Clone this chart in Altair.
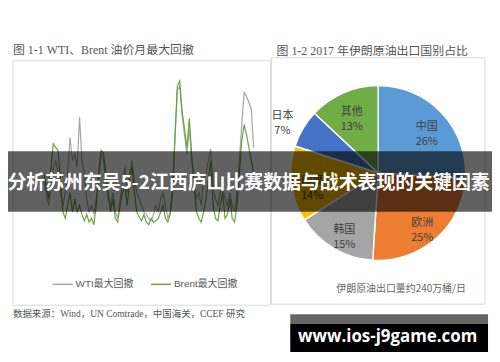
import altair as alt
import pandas as pd

W, H = 487, 346

FONT_SANS = "Noto Sans CJK SC"
FONT_SERIF = "Liberation Serif, Noto Sans CJK SC"
FONT_AXIS = "Liberation Sans, Noto Sans CJK SC"

left_title = "图 1-1 WTI、Brent 油价月最大回撤"
right_title = "图 1-2 2017 年伊朗原油出口国别占比"
source_note = "数据来源：Wind，UN Comtrade，中国海关，CCEF 研究"
pie_note = "伊朗原油出口量约240万桶/日"
banner_text = "分析苏州东吴5-2江西庐山比赛数据与战术表现的关键因素"
watermark = "www.ios-j9game.com"

# ---- line chart data (monthly max drawdown, %), one reading every 4 days
series_names = ["WTI最大回撤", "Brent最大回撤"]
series_colors = ["#a6a6a6", "#6aa33f"]
start_date = "2017-06-30"
step_days = 4
wti = [3.5, 2.5, 1.5, 3.0, 4.5, 5.0, 4.0, 2.5, 1.5, 2.5,
       4.0, 6.8, 5.0, 5.5, 4.5, 8.4, 5.0, 4.0, 2.0, 1.0,
       1.5, 0.8, 2.0, 3.5, 5.5, 5.0, 3.5, 2.0, 1.5, 2.5,
       1.0, 0.5, 2.0, 3.0, 4.5, 2.5, 4.0, 5.0, 3.5, 2.5,
       2.0, 1.5, 1.0, 0.8, 0.5, 0.3, 0.8, 1.5, 1.0, 2.0,
       2.5, 1.5, 0.5, 1.0, 3.0, 6.5, 10.5, 10.8, 8.5, 7.0,
       5.5, 7.5, 5.0, 3.5, 2.0, 2.5, 1.5, 3.5, 4.0, 5.0,
       5.9, 3.0, 2.0, 1.5, 2.5, 3.0, 2.0, 1.5, 2.5, 1.5,
       1.0, 2.5, 5.0, 7.8, 10.3, 10.0, 9.5, 9.0, 6.0]
brent = [4.0, 3.0, 2.0, 4.5, 6.3, 6.0, 5.8, 3.5, 1.0, 0.5,
         1.5, 2.5, 1.0, 2.0, 1.0, 1.5, 0.8, 0.3, 0.8, 0.2,
         0.5, 0.0, 1.5, 4.0, 5.8, 5.6, 4.0, 2.5, 1.0, 2.0,
         0.5, 0.2, 1.5, 2.5, 3.0, 1.5, 3.5, 4.5, 2.5, 1.0,
         0.6, 0.3, 0.8, 0.2, 0.0, 0.5, 0.2, 0.3, 0.5, 1.0,
         1.5, 0.5, 0.2, 0.8, 2.5, 7.0, 10.8, 11.2, 8.8, 7.5,
         6.0, 8.3, 5.5, 3.0, 1.0, 0.5, 0.2, 1.0, 2.0, 3.5,
         5.0, 1.5, 0.5, 0.3, 1.5, 2.5, 0.5, 0.8, 2.0, 0.5,
         0.2, 1.5, 4.0, 6.5, 7.8, 7.0, 6.0, 5.0, 4.0]
tick_dates = ["2017-06-30", "2017-07-31", "2017-08-31", "2017-09-30",
              "2017-10-31", "2017-11-30", "2017-12-31", "2018-01-31",
              "2018-02-28", "2018-03-31", "2018-04-30", "2018-05-31"]
y_ticks = [0, 2, 4, 6, 8, 10, 12]

# ---- pie data
countries = ["中国", "欧洲", "韩国", "印度", "日本", "其他"]
shares = [26, 25, 15, 14, 7, 13]
pie_colors = ["#5b9bd5", "#ed7d31", "#a5a5a5", "#ffc000", "#4472c4", "#70ad47"]

# ---- tables
dates = pd.date_range(start_date, periods=len(wti), freq=f"{step_days}D").strftime("%Y-%m-%d")
line_df = pd.concat([
    pd.DataFrame({"date": dates, "v": wti, "series": series_names[0]}),
    pd.DataFrame({"date": dates, "v": brent, "series": series_names[1]}),
])
pie_df = pd.DataFrame({"country": countries, "share": shares, "idx": list(range(len(countries)))})


def ms(d):
    return int(pd.Timestamp(d, tz="UTC").timestamp() * 1000)


tick_ms = [ms(d) for d in tick_dates]
one = pd.DataFrame({"k": [0]})


def rect(x, x2, y, y2, fill, stroke=None, opacity=1.0):
    kw = dict(fill=fill, opacity=opacity)
    if stroke:
        kw.update(stroke=stroke, strokeWidth=1)
    return alt.Chart(one).mark_rect(**kw).encode(
        x=alt.value(x), x2=alt.value(x2), y=alt.value(y), y2=alt.value(y2))


def text(t, x, y, size, color, font, weight="normal", align="left"):
    return alt.Chart(one).mark_text(
        text=t, fontSize=size, color=color, font=font, fontWeight=weight,
        align=align, baseline="middle").encode(x=alt.value(x), y=alt.value(y))


axis_style = dict(domainColor="#a6a6a6", tickColor="#a6a6a6", tickSize=3,
                  labelColor="#595959", labelFont=FONT_AXIS, labelFontSize=8,
                  grid=False, title=None, labelFlush=False, labelOverlap=False)

lines = alt.Chart(line_df).mark_line(strokeWidth=1.2).encode(
    x=alt.X("date:T",
            scale=alt.Scale(type="utc", domain=[tick_ms[0], tick_ms[-1]], range=[36, 237], nice=False),
            axis=alt.Axis(values=tick_ms, format="%Y-%m-%d", formatType="utc", labelAngle=270,
                          offset=-129, labelPadding=3, **axis_style)),
    y=alt.Y("v:Q",
            scale=alt.Scale(domain=[0, 12], range=[217, 62], nice=False, zero=True),
            axis=alt.Axis(values=y_ticks, labelExpr="datum.value + '%'", offset=-35,
                          labelPadding=3, **axis_style)),
    color=alt.Color("series:N", sort=series_names,
                    scale=alt.Scale(domain=series_names, range=series_colors),
                    legend=alt.Legend(orient="none", legendX=44, legendY=266, direction="horizontal",
                                      title=None, symbolType="stroke", symbolSize=400,
                                      symbolStrokeWidth=1.5, labelFontSize=10, labelColor="#595959",
                                      labelFont=FONT_AXIS, columnPadding=14, labelOffset=2, padding=0)),
)

CX, CY = 372.5, 165
arcs = alt.Chart(pie_df).mark_arc(outerRadius=88, stroke="white", strokeWidth=1.5).encode(
    theta=alt.Theta("share:Q", stack=True),
    order=alt.Order("idx:Q", sort="ascending"),
    color=alt.Color("country:N", scale=alt.Scale(domain=countries, range=pie_colors), legend=None),
    x=alt.value(CX), y=alt.value(CY),
)
pie_labels = alt.Chart(pie_df).transform_joinaggregate(
    total="sum(share)"
).transform_window(
    cum="sum(share)", sort=[alt.SortField("idx", order="ascending")]
).transform_calculate(
    mid="2 * PI * (datum.cum - datum.share / 2) / datum.total",
    lbl="datum.country + '\\n' + datum.share + '%'",
    lr="datum.country === '日本' ? 112 : 67",
).mark_text(lineBreak="\n", fontSize=11, lineHeight=15, color="#404040", font=FONT_SANS).encode(
    theta=alt.Theta("mid:Q", scale=None, stack=False),
    radius=alt.Radius("lr:Q", scale=None),
    text="lbl:N",
    x=alt.value(CX), y=alt.value(CY),
)

chart = alt.layer(
    rect(5, 264, 52, 298, "white", "#d9d9d9"),
    rect(265, 480, 49, 297, "white", "#d9d9d9"),
    text(left_title, 5, 41, 12, "#555555", FONT_SERIF),
    text(right_title, 366.5, 42, 12, "#555555", FONT_SERIF, align="center"),
    lines,
    arcs,
    pie_labels,
    text(pie_note, 395.5, 282, 10, "#666666", FONT_SANS, align="center"),
    text(source_note, 5, 307, 9.5, "#555555", FONT_SERIF),
    rect(0, W, 143, 204, "black", opacity=0.62),
    text(banner_text, 242, 175, 19, "white", FONT_SANS, weight="bold", align="center"),
    rect(284, 483, 307, 317, "#666666"),
    rect(284, 483, 317, 345, "black"),
    text(watermark, 382, 330, 17, "white", "Open Sans", weight="bold", align="center"),
).resolve_scale(
    x="independent", y="independent", color="independent", theta="independent", radius="independent"
).properties(
    width=W, height=H, padding=0, background="white",
    autosize=alt.AutoSizeParams(type="none"),
).configure_view(stroke=None)

chart.save("out.html", embed_options={"renderer": "svg", "actions": False})
